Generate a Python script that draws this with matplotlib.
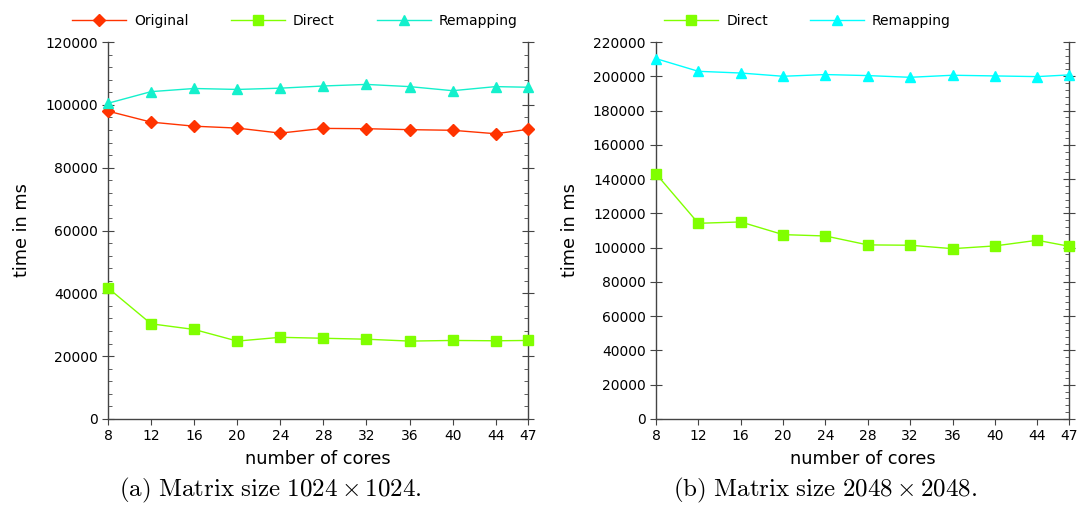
import numpy as np
import matplotlib.pyplot as plt
from matplotlib.ticker import MultipleLocator

plt.rcParams['mathtext.fontset'] = 'cm'

cores = [8, 12, 16, 20, 24, 28, 32, 36, 40, 44, 47]

# matrix 1024 x 1024
orig_1024 = [98000, 94500, 93200, 92600, 91000, 92500, 92400, 92100, 91900, 90800, 92200]
direct_1024 = [41700, 30300, 28500, 24800, 26000, 25700, 25400, 24800, 25000, 24900, 25000]
remap_1024 = [100500, 104200, 105200, 104900, 105300, 106000, 106500, 105800, 104500, 105800, 105600]

# matrix 2048 x 2048
direct_2048 = [143100, 114200, 115000, 107600, 106800, 101600, 101400, 99400, 101000, 104300, 100800]
remap_2048 = [210300, 202900, 201900, 200000, 201000, 200400, 199400, 200600, 200200, 199800, 200800]

RED = '#ff3300'
GREEN = '#80ff00'
TURQ = '#14f0cc'
CYAN = '#00ffff'
AXC = '#444444'


def style_axes(ax, ymax, ystep, left_minor=True):
    ax.set_xlim(8, 47)
    ax.set_ylim(0, ymax)
    ax.set_xticks(cores)
    ax.yaxis.set_major_locator(MultipleLocator(ystep))
    ax.yaxis.set_minor_locator(MultipleLocator(ystep / 5))
    ax.spines['top'].set_visible(False)
    for s in ['left', 'right', 'bottom']:
        ax.spines[s].set_color(AXC)
        ax.spines[s].set_linewidth(1.0)
    ax.tick_params(axis='x', which='major', direction='out', length=4,
                   color=AXC, labelsize=10)
    ax.tick_params(axis='y', which='major', direction='inout', length=8,
                   color=AXC, labelsize=10, right=True)
    ax.tick_params(axis='y', which='minor', direction='in', length=3,
                   color=AXC, right=True, left=left_minor)
    ax.set_xlabel('number of cores', fontsize=12.8, labelpad=5)
    ax.set_ylabel('time in ms', fontsize=12.8, labelpad=10)


fig = plt.figure(figsize=(10.8, 5.12), dpi=100)
ax1 = fig.add_axes([108 / 1080, 93 / 512, 420 / 1080, 377 / 512])
ax2 = fig.add_axes([656 / 1080, 93 / 512, 413 / 1080, 377 / 512])

kw = dict(linewidth=1.0, markersize=7, clip_on=False, zorder=3)
ax1.plot(cores, orig_1024, color=RED, marker='D', label='Original', markersize=6,
         linewidth=1.0, clip_on=False, zorder=3)
ax1.plot(cores, direct_1024, color=GREEN, marker='s', label='Direct', **kw)
ax1.plot(cores, remap_1024, color=TURQ, marker='^', label='Remapping', **kw)
style_axes(ax1, 120000, 20000)

ax2.plot(cores, direct_2048, color=GREEN, marker='s', label='Direct', **kw)
ax2.plot(cores, remap_2048, color=CYAN, marker='^', label='Remapping', **kw)
style_axes(ax2, 220000, 20000, left_minor=False)

leg_kw = dict(ncol=3, frameon=False, fontsize=10, handlelength=3.9,
              handletextpad=0.6, columnspacing=3.0, borderaxespad=0.6)
ax1.legend(loc='lower center', bbox_to_anchor=(0.445, 1.0), **leg_kw)
leg_kw['ncol'] = 2
ax2.legend(loc='lower left', bbox_to_anchor=(-0.015, 1.0), **leg_kw)

fig.text(270 / 1080, 1 - 490 / 512, r'$\mathrm{(a)\ Matrix\ size\ 1024} \times \mathrm{1024.}$',
         ha='center', va='center', fontsize=18)
fig.text(825 / 1080, 1 - 490 / 512, r'$\mathrm{(b)\ Matrix\ size\ 2048} \times \mathrm{2048.}$',
         ha='center', va='center', fontsize=18)

fig.savefig('out.png', dpi=100)
